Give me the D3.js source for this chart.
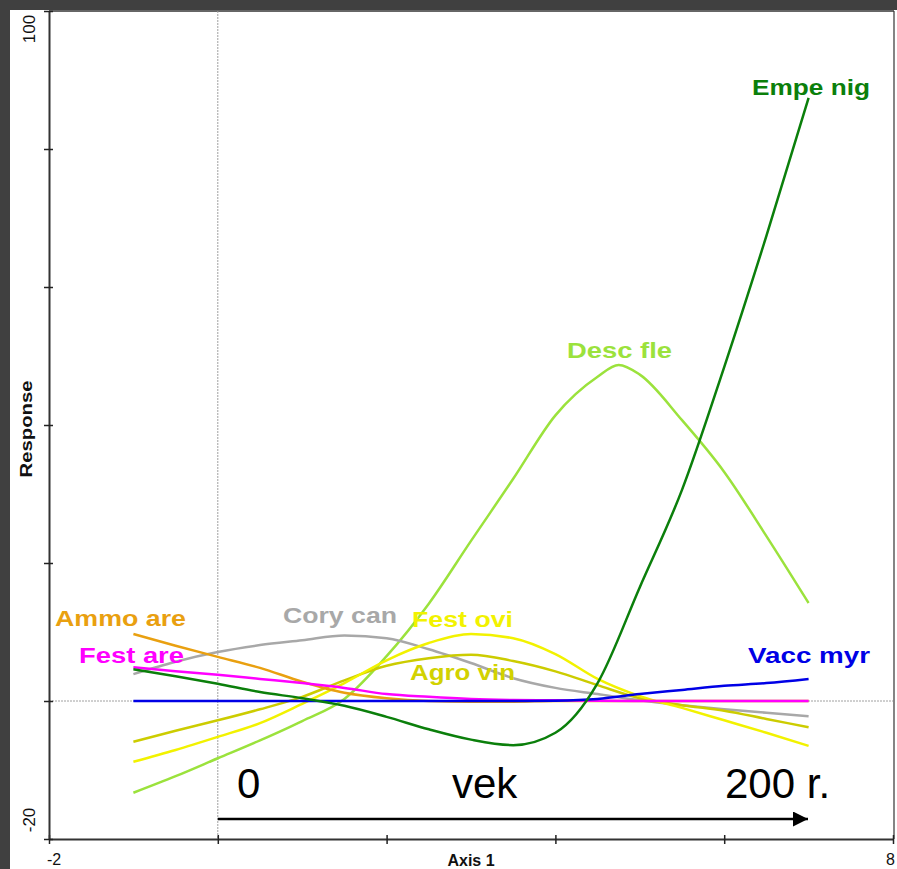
<!DOCTYPE html>
<html><head><meta charset="utf-8">
<script src="https://cdn.jsdelivr.net/npm/d3@7"></script>
<style>
html,body{margin:0;padding:0;background:#404040;}
svg{display:block;}
text{font-family:"Liberation Sans",Arial,Helvetica,sans-serif;}
</style></head>
<body>
<svg id="chart" width="897" height="869"></svg>
<script>
// ---- data ----
const axisX = [-1, -0.5, 0, 0.5, 1, 1.5, 2, 2.5, 3, 3.5, 4, 4.5, 5, 5.5, 6, 6.5, 7];
const descFleX = [-1, -0.5, 0, 0.5, 1, 1.5, 2, 2.5, 3, 3.5, 4, 4.5, 4.75, 5, 5.5, 6, 6.5, 7];
const empeNig = [4.6, 3.6, 2.5, 1.3, 0.4, -0.7, -2.3, -4.1, -5.6, -6.4, -4.6, 2.6, 16.5, 30.6, 48.4, 67.4, 87.4];
const descFle = [-13.3, -10.9, -8.3, -5.7, -2.9, 0.3, 6.5, 14.1, 23.2, 32.2, 41.4, 47.0, 48.7, 47.3, 40.7, 33.2, 23.9, 14.2];
const coryCan = [3.9, 5.7, 7.1, 8.1, 8.8, 9.5, 9.1, 7.5, 5.5, 3.3, 1.9, 1.0, 0.1, -0.6, -1.2, -1.7, -2.2];
const festOvi = [-8.8, -7.1, -5.2, -3.2, -0.4, 2.6, 5.9, 8.4, 9.7, 9.1, 6.8, 3.2, 0.7, -1.0, -2.8, -4.6, -6.5];
const agroVin = [-5.9, -4.3, -2.8, -1.2, 0.6, 3.0, 5.1, 6.2, 6.7, 5.8, 4.3, 2.3, 0.4, -0.6, -1.4, -2.6, -3.8];
const ammoAre = [9.7, 8.0, 6.4, 4.8, 2.8, 1.2, 0.4, 0.0, -0.1, -0.1, 0.0, 0.0, 0.0, 0.0, 0.0, 0.0, 0.0];
const festAre = [4.9, 4.3, 3.8, 3.2, 2.6, 1.9, 1.0, 0.6, 0.3, 0.15, 0.1, 0.05, 0.0, 0.0, 0.0, 0.0, 0.0];
const vaccMyr = [0.0, 0.0, 0.0, 0.0, 0.0, 0.0, 0.0, 0.0, 0.0, 0.0, 0.05, 0.3, 1.0, 1.6, 2.2, 2.6, 3.2];
const speciesNames = ["Desc fle", "Cory can", "Agro vin", "Fest ovi", "Ammo are", "Fest are", "Vacc myr", "Empe nig"];
const xTicks = [-2, 0, 2, 4, 6, 8];
const yTicks = [-20, 0, 20, 40, 60, 80, 100];
const xTickLabels = ["-2", "8"];
const yTickLabels = ["-20", "100"];
const timeLabels = ["0", "vek", "200 r."];

// ---- styles / layout ----
const seriesValues = {
  "Desc fle": descFle, "Cory can": coryCan, "Agro vin": agroVin, "Fest ovi": festOvi,
  "Ammo are": ammoAre, "Fest are": festAre, "Vacc myr": vaccMyr, "Empe nig": empeNig
};
const seriesX = { "Desc fle": descFleX };
const colors = {
  "Desc fle": "#9be23c", "Cory can": "#a8a8a8", "Agro vin": "#cccc00", "Fest ovi": "#f2f200",
  "Ammo are": "#e9a010", "Fest are": "#ff00ff", "Vacc myr": "#0000e6", "Empe nig": "#0b7f0b"
};
const labelColors = Object.assign({}, colors, {"Agro vin": "#d2d200", "Fest ovi": "#f2f200"});
// label placement: left x, baseline y, text width
const labelPos = {
  "Empe nig": [752, 95, 118], "Desc fle": [567, 358, 105], "Cory can": [283, 623, 114],
  "Fest ovi": [412, 627, 101], "Agro vin": [410, 680, 105], "Ammo are": [55, 626, 131],
  "Fest are": [79, 663, 105], "Vacc myr": [748, 663, 122]
};

const svg = d3.select("#chart");
svg.append("rect").attr("x", 10).attr("y", 10).attr("width", 887).attr("height", 859).attr("fill", "#fff");

const x = d3.scaleLinear().domain([-2, 8]).range([49, 893]);
const y = d3.scaleLinear().domain([-20, 100]).range([839, 11]);

// frame top/right
svg.append("line").attr("x1", 49).attr("x2", 894).attr("y1", 11).attr("y2", 11).attr("stroke", "#333").attr("stroke-width", 1.5);
svg.append("line").attr("x1", 894).attr("x2", 894).attr("y1", 11).attr("y2", 839).attr("stroke", "#333").attr("stroke-width", 1.2);

// zero reference lines
svg.append("line").attr("x1", x(0)).attr("x2", x(0)).attr("y1", y(100)).attr("y2", y(-20))
  .attr("stroke", "#a0a0a0").attr("stroke-width", 1).attr("stroke-dasharray", "2,1");
svg.append("line").attr("x1", x(-2)).attr("x2", x(8)).attr("y1", y(0)).attr("y2", y(0))
  .attr("stroke", "#a0a0a0").attr("stroke-width", 1).attr("stroke-dasharray", "2,1");

// axes
const gx = svg.append("g").attr("transform", `translate(0,${y(-20)})`)
  .call(d3.axisBottom(x).tickValues(xTicks).tickFormat("").tickSize(5).tickSizeOuter(0));
gx.select(".domain").attr("stroke", "#333").attr("stroke-width", 2);
gx.selectAll(".tick line").attr("y1", -4).attr("y2", 5).attr("stroke", "#222").attr("stroke-width", 1.5);

const gy = svg.append("g").attr("transform", `translate(${x(-2)},0)`)
  .call(d3.axisLeft(y).tickValues(yTicks).tickFormat("").tickSize(5).tickSizeOuter(0));
gy.select(".domain").attr("stroke", "#333").attr("stroke-width", 2);
gy.selectAll(".tick line").attr("x1", -5).attr("x2", 4).attr("stroke", "#222").attr("stroke-width", 1.5);

// tick labels (only extremes)
svg.append("text").attr("x", x(-2) - 2).attr("y", 865).attr("font-size", 16).attr("text-anchor", "start").attr("fill", "#111").text(xTickLabels[0]);
svg.append("text").attr("x", x(8) + 2).attr("y", 865).attr("font-size", 16).attr("text-anchor", "end").attr("fill", "#111").text(xTickLabels[1]);
svg.append("text").attr("transform", `translate(35,${y(-20) - 19}) rotate(-90)`).attr("font-size", 17).attr("text-anchor", "middle").attr("fill", "#111").text(yTickLabels[0]);
svg.append("text").attr("transform", `translate(35,${y(100) + 18}) rotate(-90)`).attr("font-size", 17).attr("text-anchor", "middle").attr("fill", "#111").text(yTickLabels[1]);

// axis titles
svg.append("text").attr("x", (x(-2) + x(8)) / 2).attr("y", 866).attr("font-size", 16).attr("font-weight", "bold")
  .attr("text-anchor", "middle").attr("fill", "#111").text("Axis 1");
svg.append("text").attr("transform", `translate(32,429) rotate(-90)`).attr("font-size", 17).attr("font-weight", "bold")
  .attr("text-anchor", "middle").attr("textLength", 97).attr("lengthAdjust", "spacingAndGlyphs").attr("fill", "#111").text("Response");

// curves
speciesNames.forEach(name => {
  const xs = seriesX[name] || axisX;
  const line = d3.line().x((d, i) => x(xs[i])).y(d => y(d)).curve(d3.curveMonotoneX);
  svg.append("path").attr("d", line(seriesValues[name])).attr("fill", "none")
    .attr("stroke", colors[name]).attr("stroke-width", 2.5).attr("stroke-linejoin", "round");
});

// species labels
speciesNames.forEach(name => {
  const p = labelPos[name];
  svg.append("text").attr("x", p[0]).attr("y", p[1]).attr("font-size", 22).attr("font-weight", "bold")
    .attr("textLength", p[2]).attr("lengthAdjust", "spacingAndGlyphs")
    .attr("fill", labelColors[name]).text(name);
});

// time arrow
const defs = svg.append("defs");
defs.append("marker").attr("id", "ah").attr("viewBox", "0 0 10 10").attr("refX", 10).attr("refY", 5)
  .attr("markerWidth", 16).attr("markerHeight", 15).attr("markerUnits", "userSpaceOnUse").attr("orient", "auto")
  .append("path").attr("d", "M0,0 L10,5 L0,10 Z").attr("fill", "#000");
svg.append("line").attr("x1", x(0)).attr("x2", 808).attr("y1", 819).attr("y2", 819)
  .attr("stroke", "#000").attr("stroke-width", 2.5).attr("marker-end", "url(#ah)");
svg.append("text").attr("x", 237).attr("y", 798).attr("font-size", 42).attr("fill", "#000").text(timeLabels[0]);
svg.append("text").attr("x", 452).attr("y", 798).attr("font-size", 42).attr("fill", "#000").text(timeLabels[1]);
svg.append("text").attr("x", 725).attr("y", 798).attr("font-size", 42).attr("fill", "#000").text(timeLabels[2]);
</script>
</body></html>
